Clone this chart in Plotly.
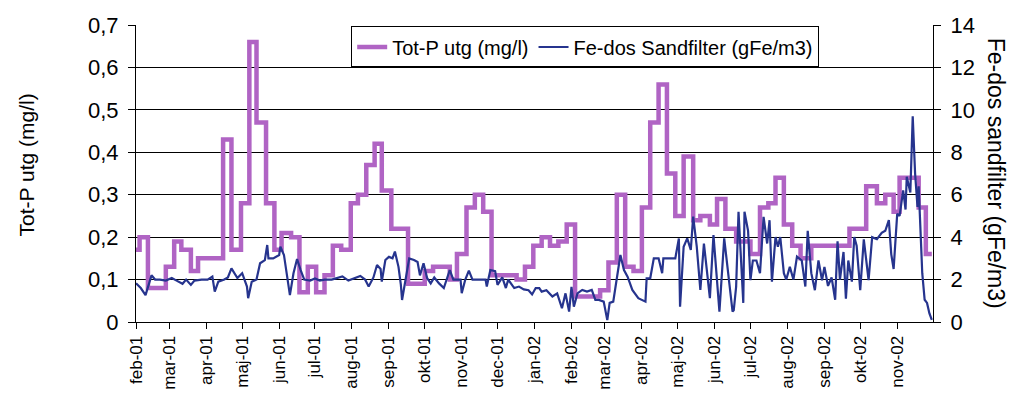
import pandas as pd
import plotly.graph_objects as go

START = "2001-02-01"
END = "2002-12-01"

# Month tick labels (Swedish)
TICK_LABELS = ["feb-01", "mar-01", "apr-01", "maj-01", "jun-01", "jul-01", "aug-01",
               "sep-01", "okt-01", "nov-01", "dec-01", "jan-02", "feb-02", "mar-02",
               "apr-02", "maj-02", "jun-02", "jul-02", "aug-02", "sep-02", "okt-02", "nov-02"]

# Tot-P utg (mg/l): step changes, day offset from 2001-02-01
TOTP_DAY = [0, 3, 10, 25, 32, 38, 46, 52, 73, 80,
            88, 95, 101, 109, 116, 122, 130, 137, 144, 151,
            158, 165, 172, 180, 186, 193, 200, 206, 214, 228,
            242, 249, 263, 269, 277, 284, 291, 298, 319, 326,
            333, 340, 347, 354, 361, 368, 389, 396, 403, 410,
            417, 424, 431, 438, 445, 452, 459, 467, 473, 481,
            487, 494, 503, 515, 523, 530, 536, 543, 550, 557,
            566, 598, 612, 621, 628, 635, 640, 656, 662, 667]
TOTP = [0.17, 0.20, 0.08, 0.13, 0.19, 0.17, 0.12, 0.15, 0.43, 0.17,
        0.28, 0.66, 0.47, 0.28, 0.17, 0.21, 0.20, 0.07, 0.13, 0.07,
        0.11, 0.18, 0.17, 0.28, 0.30, 0.37, 0.42, 0.31, 0.22, 0.09,
        0.12, 0.13, 0.10, 0.16, 0.27, 0.30, 0.26, 0.11, 0.10, 0.13,
        0.18, 0.20, 0.18, 0.19, 0.23, 0.06, 0.075, 0.14, 0.30, 0.13,
        0.12, 0.27, 0.47, 0.56, 0.35, 0.25, 0.39, 0.24, 0.25, 0.23,
        0.29, 0.22, 0.19, 0.16, 0.27, 0.28, 0.34, 0.23, 0.18, 0.15,
        0.18, 0.22, 0.32, 0.28, 0.30, 0.26, 0.34, 0.27, 0.16, 0.16]

# Fe-dos Sandfilter (gFe/m3): day offset from 2001-02-01
FE_DAY = [0, 4, 8, 11, 13, 16, 20, 25, 30, 34,
          39, 42, 46, 49, 55, 60, 64, 66, 69, 74,
          77, 80, 85, 89, 93, 94, 97, 101, 104, 108,
          110, 111, 115, 120, 121, 124, 127, 129, 132, 135,
          138, 141, 146, 150, 154, 158, 164, 173, 178, 188,
          192, 195, 199, 202, 205, 206, 209, 212, 215, 217,
          220, 222, 223, 226, 229, 233, 236, 238, 241, 244,
          247, 250, 254, 258, 261, 263, 266, 272, 273, 276,
          279, 282, 287, 293, 294, 297, 301, 303, 307, 310,
          312, 317, 321, 325, 329, 332, 335, 338, 340, 344,
          349, 353, 357, 360, 363, 365, 367, 370, 374, 378,
          382, 385, 388, 392, 395, 397, 400, 403, 406, 409,
          412, 416, 421, 427, 428, 431, 434, 438, 441, 442,
          446, 452, 455, 456, 459, 462, 465, 467, 470, 473,
          476, 479, 481, 484, 487, 489, 493, 497, 500, 501,
          503, 505, 507, 509, 510, 513, 515, 517, 520, 523,
          526, 529, 531, 533, 536, 538, 540, 543, 545, 548,
          551, 554, 558, 561, 563, 566, 569, 572, 575, 577,
          580, 583, 586, 588, 590, 593, 595, 597, 600, 602,
          604, 607, 610, 614, 617, 621, 625, 628, 631, 633,
          635, 638, 640, 643, 645, 646, 649, 650, 651, 653,
          655, 656, 658, 659, 661, 663, 665, 667]
FE = [1.83, 1.6, 1.27, 1.9, 2.2, 2.0, 2.0, 1.95, 2.07, 1.95,
      1.8, 2.0, 1.75, 1.95, 2.0, 2.0, 2.14, 1.43, 1.9, 2.0,
      2.1, 2.53, 2.07, 2.3, 1.67, 1.12, 1.9, 2.0, 2.77, 2.92,
      3.63, 3.0, 3.0, 3.16, 3.55, 3.16, 2.0, 1.27, 2.3, 2.97,
      2.45, 2.0, 1.95, 2.05, 1.95, 2.0, 2.0, 2.15, 1.95, 2.17,
      2.0, 1.67, 2.1, 2.69, 2.5, 1.9, 2.92, 3.07, 3.0, 3.32,
      2.6, 1.75, 1.04, 2.0, 3.0, 2.92, 2.83, 2.2, 2.77, 2.07,
      1.82, 2.1, 1.82, 1.6, 2.1, 2.45, 2.0, 2.0, 1.36, 2.0,
      2.42, 2.0, 2.0, 2.0, 1.67, 2.45, 2.4, 1.75, 2.1, 1.6,
      2.0, 1.6, 1.67, 1.54, 1.5, 1.3, 1.6, 1.6, 1.43, 1.5,
      1.2, 1.35, 0.65, 1.35, 0.49, 1.66, 0.72, 1.35, 1.51, 1.43,
      1.51, 1.04, 1.04, 0.96, 0.09, 0.9, 0.96, 2.14, 3.16, 2.45,
      2.14, 1.51, 1.12, 0.96, 2.06, 2.06, 3.0, 3.0, 2.3, 3.0,
      3.0, 3.0, 3.94, 0.72, 3.55, 3.94, 3.4, 4.97, 3.55, 1.51,
      3.7, 2.3, 1.12, 4.1, 2.0, 0.49, 3.94, 1.98, 0.49, 0.55,
      1.67, 5.19, 3.08, 0.9, 5.2, 4.3, 1.97, 2.9, 2.9, 2.3,
      4.96, 3.7, 4.8, 1.9, 4.0, 3.55, 4.0, 2.3, 2.0, 2.6,
      2.0, 3.08, 2.9, 1.67, 4.3, 2.3, 1.5, 2.9, 1.97, 2.6,
      1.7, 2.1, 1.05, 3.8, 2.0, 3.3, 1.1, 2.9, 1.9, 4.0,
      3.6, 1.5, 3.9, 1.97, 4.0, 3.9, 4.2, 4.3, 4.8, 3.2,
      2.5, 5.1, 5.0, 6.2, 5.3, 6.85, 6.1, 7.5, 9.7, 7.0,
      5.43, 6.4, 3.2, 2.3, 1.05, 0.9, 0.4, 0.1]

assert len(TOTP_DAY) == len(TOTP)
assert len(FE_DAY) == len(FE)

start = pd.Timestamp(START)
totp_dates = start + pd.to_timedelta(TOTP_DAY, unit="D")
fe_dates = start + pd.to_timedelta(FE_DAY, unit="D")
tick_dates = pd.date_range(START, periods=len(TICK_LABELS), freq="MS")

PURPLE = "#B064C4"
NAVY = "#26348E"
FONT = "Liberation Sans, Arial, sans-serif"

fig = go.Figure()
fig.add_trace(go.Scatter(
    x=totp_dates, y=TOTP, mode="lines", name="Tot-P utg (mg/l)",
    line=dict(color=PURPLE, width=4.5, shape="hv"), yaxis="y"))
fig.add_trace(go.Scatter(
    x=fe_dates, y=FE, mode="lines", name="Fe-dos Sandfilter (gFe/m3)",
    line=dict(color=NAVY, width=2.2), yaxis="y2"))

# page body has an 8px default margin, so the figure is sized to fit the window
fig.update_layout(
    width=1015, height=406, autosize=False,
    margin=dict(l=128, r=90, t=17, b=92, pad=0),
    paper_bgcolor="white", plot_bgcolor="white",
    separators=", ",
    font=dict(family=FONT, color="black"),
    showlegend=True,
    legend=dict(orientation="h", x=0.27, y=0.995, xanchor="left", yanchor="top",
                bgcolor="white", bordercolor="black", borderwidth=1,
                font=dict(size=20, family=FONT), itemwidth=30, tracegroupgap=0),
    xaxis=dict(type="date", range=[START, END], tickvals=tick_dates, ticktext=TICK_LABELS,
               tickangle=-90, ticks="outside", ticklen=6, tickcolor="black",
               showline=True, linecolor="black", linewidth=1, showgrid=False,
               tickfont=dict(size=17, family=FONT), zeroline=False, automargin=False),
    yaxis=dict(range=[0, 0.7], dtick=0.1, tick0=0, ticks="outside", ticklen=7,
               tickcolor="black", showline=True, linecolor="black", linewidth=1,
               showgrid=True, gridcolor="black", gridwidth=1, zeroline=False,
               ticklabelstandoff=5,
               tickfont=dict(size=22, family=FONT), automargin=False),
    yaxis2=dict(range=[0, 14], dtick=2, tick0=0, overlaying="y", side="right",
                ticks="outside", ticklen=7, tickcolor="black", showline=True,
                linecolor="black", linewidth=1, showgrid=False, zeroline=False,
                ticklabelstandoff=5,
                tickfont=dict(size=22, family=FONT), automargin=False),
    annotations=[
        dict(text="Tot-P utg (mg/l)", xref="paper", yref="paper", x=-0.137, y=0.53,
             xanchor="center", yanchor="middle", textangle=-90, showarrow=False,
             font=dict(size=21, family=FONT, color="black")),
        dict(text="Fe-dos sandfilter (gFe/m3)", xref="paper", yref="paper", x=1.08, y=0.5,
             xanchor="center", yanchor="middle", textangle=90, showarrow=False,
             font=dict(size=23, family=FONT, color="black")),
    ],
)

fig.write_html("out.html")
